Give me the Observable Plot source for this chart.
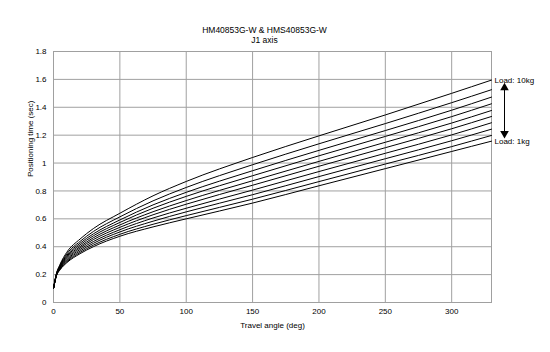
<!DOCTYPE html>
<html>
<head>
<meta charset="utf-8">
<script src="https://cdn.jsdelivr.net/npm/d3@7"></script>
<script src="https://cdn.jsdelivr.net/npm/@observablehq/plot@0.6"></script>
<style>
  html, body { margin: 0; padding: 0; background: #fff; }
</style>
</head>
<body>
<div id="chart"></div>
<script>
const titleLine1 = "HM40853G-W & HMS40853G-W";
const titleLine2 = "J1 axis";
const xLabel = "Travel angle (deg)";
const yLabel = "Positioning time (sec)";
const xTicks = [0, 50, 100, 150, 200, 250, 300];
const yTicks = [0, 0.2, 0.4, 0.6, 0.8, 1.0, 1.2, 1.4, 1.6, 1.8];

const angles = [0, 2, 5, 10, 20, 30, 50, 75, 100, 150, 200, 250, 300, 330];
const loads = ["1kg", "2kg", "3kg", "4kg", "5kg", "6kg", "7kg", "8kg", "9kg", "10kg"];
const time1kg  = [0.10, 0.185, 0.235, 0.285, 0.350, 0.400, 0.475, 0.542, 0.600, 0.713, 0.837, 0.960, 1.083, 1.157];
const time2kg  = [0.10, 0.186, 0.238, 0.291, 0.359, 0.411, 0.489, 0.561, 0.623, 0.741, 0.867, 0.993, 1.118, 1.198];
const time3kg  = [0.10, 0.188, 0.242, 0.299, 0.369, 0.424, 0.506, 0.583, 0.650, 0.773, 0.903, 1.031, 1.160, 1.243];
const time4kg  = [0.10, 0.189, 0.246, 0.306, 0.380, 0.437, 0.522, 0.606, 0.676, 0.806, 0.939, 1.070, 1.202, 1.289];
const time5kg  = [0.10, 0.191, 0.251, 0.314, 0.391, 0.451, 0.539, 0.629, 0.705, 0.841, 0.977, 1.110, 1.246, 1.334];
const time6kg  = [0.10, 0.192, 0.255, 0.322, 0.401, 0.464, 0.556, 0.651, 0.731, 0.873, 1.012, 1.149, 1.287, 1.377];
const time7kg  = [0.10, 0.194, 0.259, 0.330, 0.413, 0.478, 0.574, 0.676, 0.761, 0.909, 1.052, 1.191, 1.333, 1.425];
const time8kg  = [0.10, 0.196, 0.263, 0.338, 0.425, 0.492, 0.592, 0.700, 0.790, 0.945, 1.091, 1.233, 1.379, 1.473];
const time9kg  = [0.10, 0.198, 0.269, 0.348, 0.438, 0.509, 0.614, 0.729, 0.825, 0.988, 1.138, 1.283, 1.433, 1.526];
const time10kg = [0.10, 0.200, 0.275, 0.360, 0.455, 0.530, 0.640, 0.765, 0.868, 1.040, 1.195, 1.345, 1.500, 1.595];

const series = [time1kg, time2kg, time3kg, time4kg, time5kg, time6kg, time7kg, time8kg, time9kg, time10kg];
const rows = [];
series.forEach((vals, i) => vals.forEach((v, j) => rows.push({load: loads[i], angle: angles[j], time: v})));

const xMax = angles[angles.length - 1];
const topEnd = time10kg[time10kg.length - 1];
const botEnd = time1kg[time1kg.length - 1];
const endLabels = [
  {angle: xMax, time: topEnd, text: "Load: " + loads[loads.length - 1]},
  {angle: xMax, time: botEnd, text: "Load: " + loads[0]}
];
const arrowEnds = [
  {angle: xMax, time: topEnd - 0.055, rot: 0},
  {angle: xMax, time: botEnd + 0.055, rot: 180}
];

const gridColor = "#a0a0a0";

const chart = Plot.plot({
  width: 550,
  height: 352,
  marginLeft: 53,
  marginRight: 59,
  marginTop: 51,
  marginBottom: 50,
  style: {fontFamily: "'Liberation Sans', Arial, sans-serif", fontSize: "8px", background: "#fff", color: "#000", overflow: "visible"},
  x: {domain: [0, xMax]},
  y: {domain: [0, 1.8]},
  marks: [
    Plot.gridX(xTicks, {stroke: gridColor, strokeOpacity: 1, strokeWidth: 1}),
    Plot.gridY(yTicks, {stroke: gridColor, strokeOpacity: 1, strokeWidth: 1}),
    Plot.frame({stroke: gridColor, strokeWidth: 1}),
    Plot.axisX({ticks: xTicks, tickSize: 0, tickPadding: 6, label: null, tickFormat: d3.format("~g")}),
    Plot.axisY({ticks: yTicks, tickSize: 0, tickPadding: 7, label: null, tickFormat: d3.format("~g")}),
    Plot.line(rows, {x: "angle", y: "time", z: "load", stroke: "#000", strokeWidth: 1, curve: "monotone-x"}),
    Plot.text(endLabels, {x: "angle", y: "time", text: "text", textAnchor: "start", dx: 3, fontSize: 8}),
    Plot.link([{a: arrowEnds[0], b: arrowEnds[1]}], {x1: d => d.a.angle, y1: d => d.a.time, x2: d => d.b.angle, y2: d => d.b.time, dx: 13, stroke: "#000", strokeWidth: 1}),
    Plot.dot(arrowEnds, {x: "angle", y: "time", dx: 13, symbol: "triangle", r: 3.2, fill: "#000", stroke: "none", rotate: "rot"}),
    Plot.text([titleLine1], {frameAnchor: "top", text: d => d, dy: -25, dx: -8, fontSize: 8.5}),
    Plot.text([titleLine2], {frameAnchor: "top", text: d => d, dy: -15, dx: -8, fontSize: 8.5}),
    Plot.text([xLabel], {frameAnchor: "bottom", text: d => d, dy: 25, fontSize: 8}),
    Plot.text([yLabel], {frameAnchor: "left", text: d => d, dx: -23, rotate: -90, fontSize: 8})
  ]
});
document.getElementById("chart").appendChild(chart);
</script>
</body>
</html>
